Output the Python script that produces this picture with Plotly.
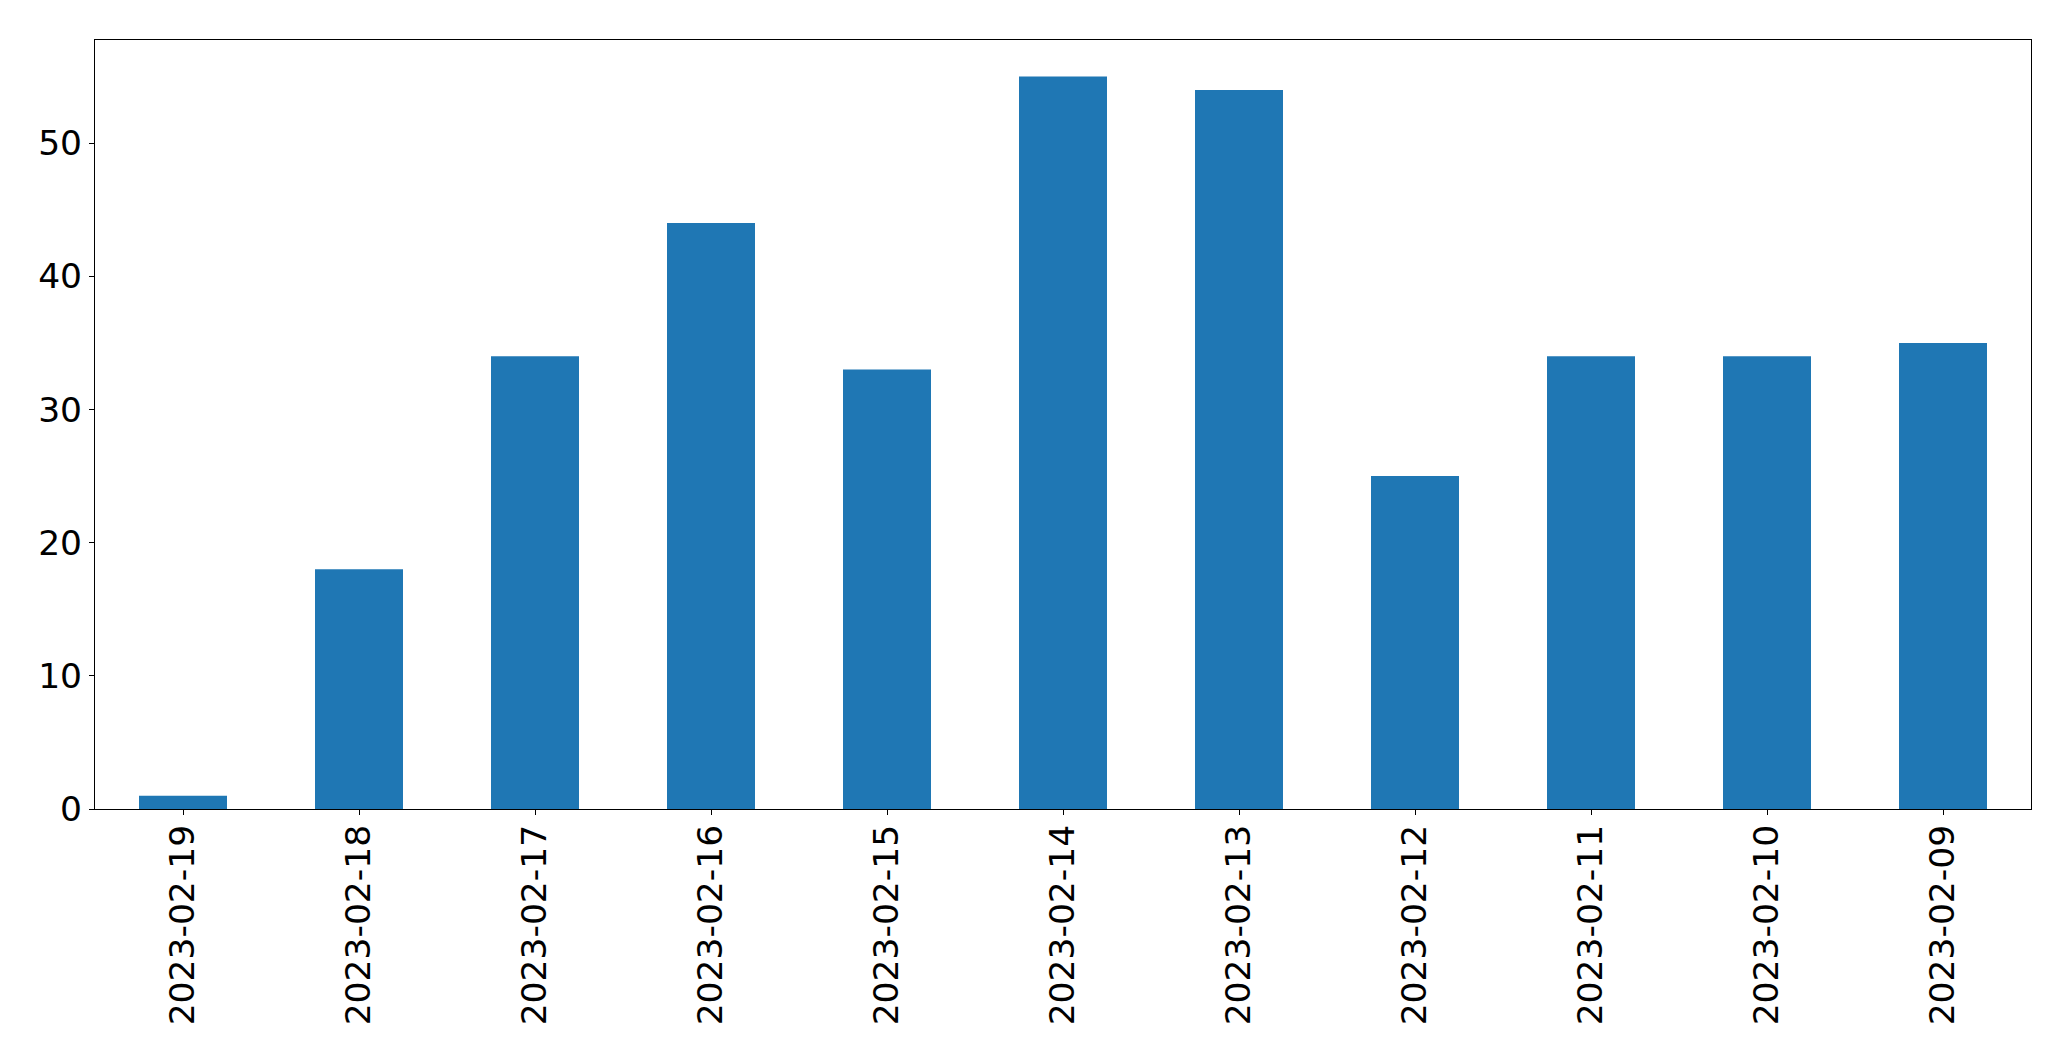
import plotly.graph_objects as go

dates = ["2023-02-19", "2023-02-18", "2023-02-17", "2023-02-16", "2023-02-15",
         "2023-02-14", "2023-02-13", "2023-02-12", "2023-02-11", "2023-02-10",
         "2023-02-09"]
counts = [1, 18, 34, 44, 33, 55, 54, 25, 34, 34, 35]
y_ticks = [0, 10, 20, 30, 40, 50]

fig = go.Figure(go.Bar(x=dates, y=counts, width=0.5, marker=dict(color="#1f77b4", line=dict(width=0))))

font = dict(family="DejaVu Sans", size=34.5, color="black")
# page body has an 8px default margin; compensate so the plot lands where the reference has it
fig.update_layout(
    width=2063, height=1053,
    margin=dict(l=86.5, r=39.5, t=31.5, b=252, pad=0),
    paper_bgcolor="white", plot_bgcolor="white",
    showlegend=False,
    font=font,
)
fig.update_xaxes(
    type="category", range=[-0.5, len(dates) - 0.5],
    tickangle=-90, tickfont=font, ticklabelstandoff=-4,
    showline=True, linecolor="black", linewidth=1.1, mirror=True,
    ticks="outside", ticklen=5, tickwidth=1.1, tickcolor="black",
    showgrid=False, zeroline=False, automargin=False,
)
fig.update_yaxes(
    range=[0, max(counts) * 1.05], tickvals=y_ticks, tickfont=font,
    showline=True, linecolor="black", linewidth=1.1, mirror=True,
    ticks="outside", ticklen=5, tickwidth=1.1, tickcolor="black",
    showgrid=False, zeroline=False, automargin=False,
)
fig.write_html("out.html")
